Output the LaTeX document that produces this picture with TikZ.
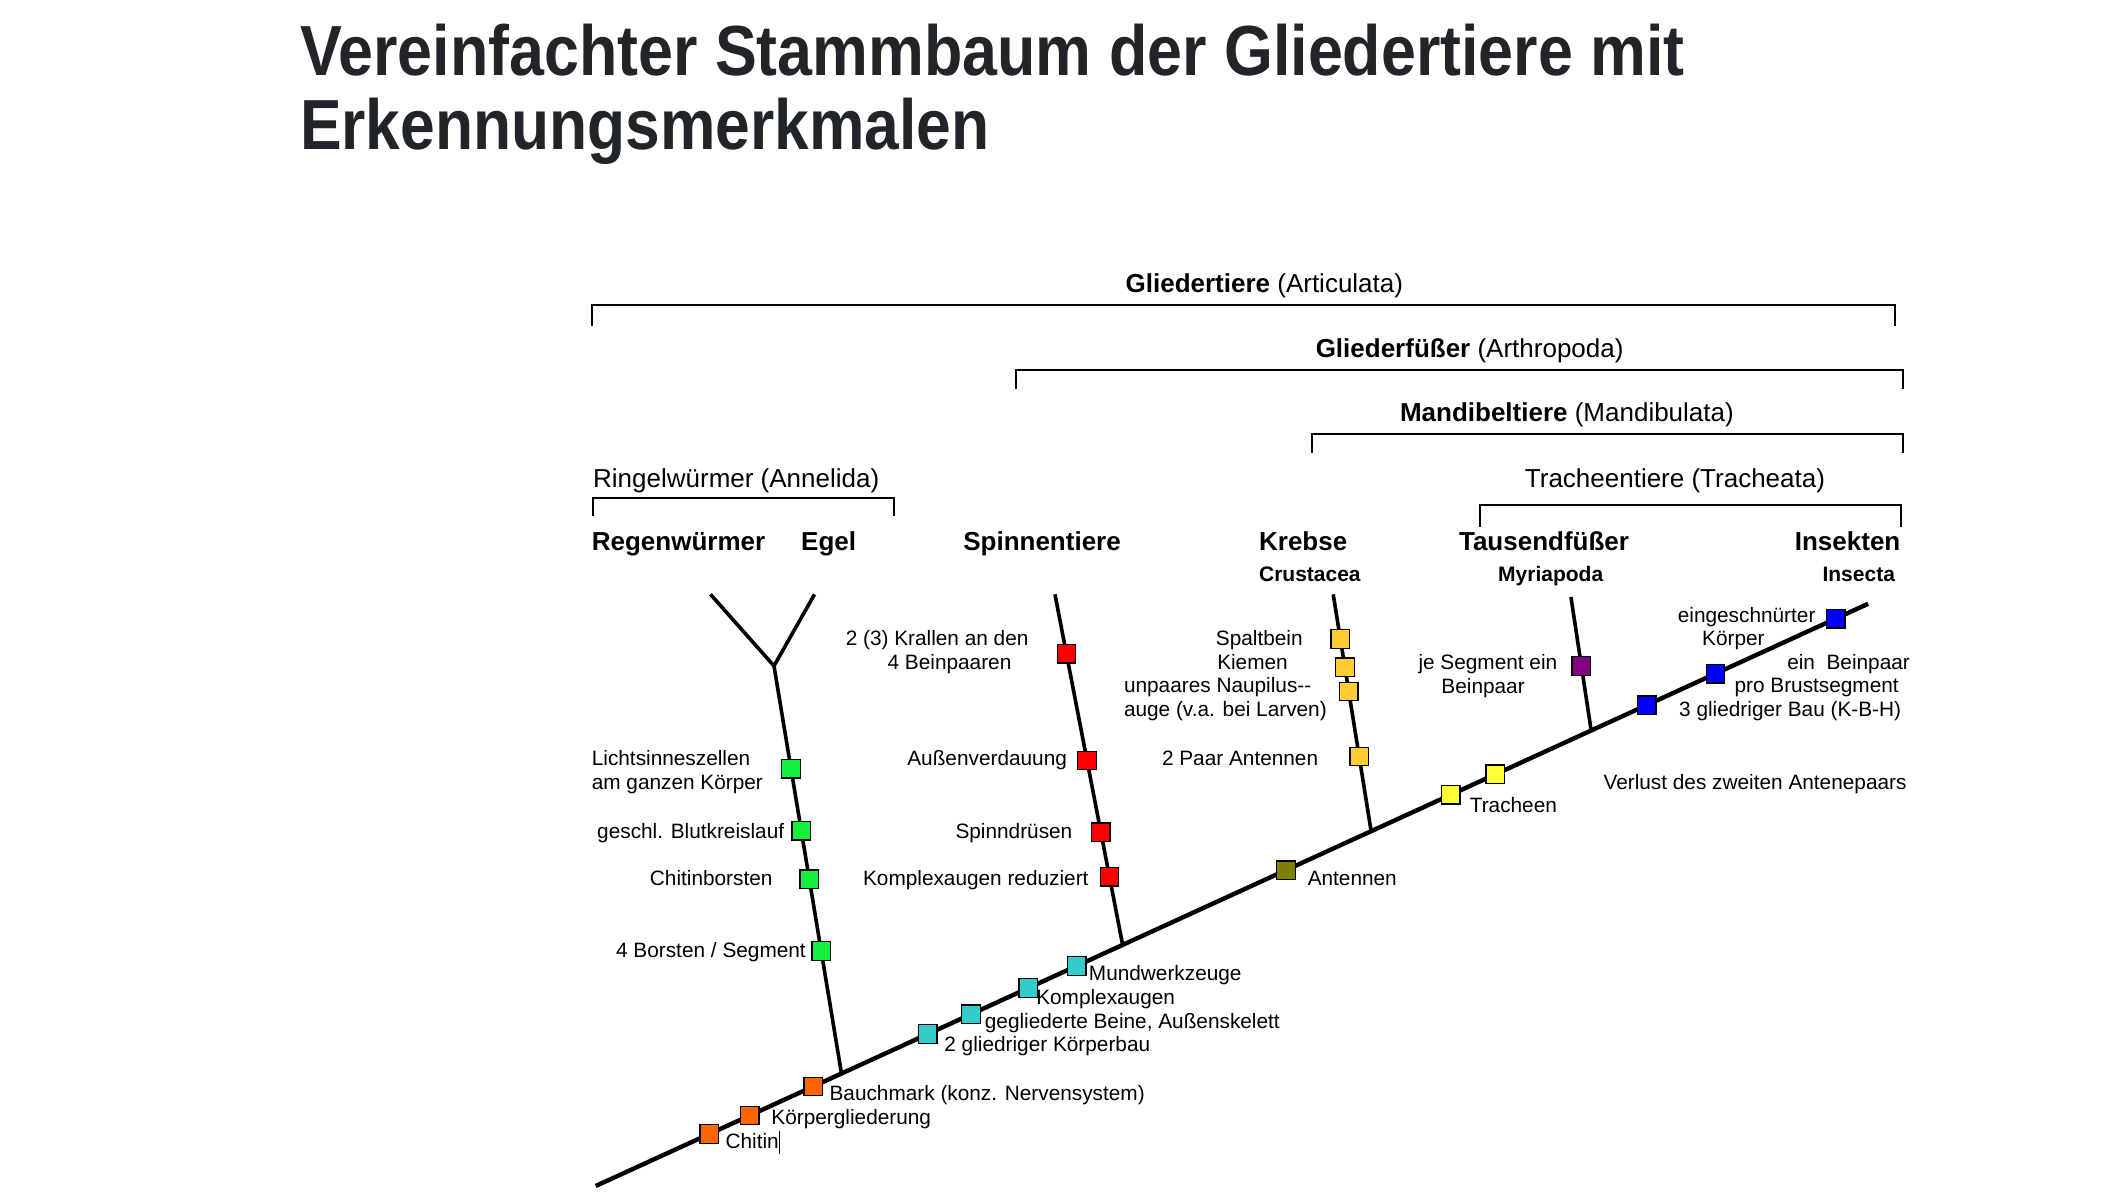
\documentclass[tikz,border=0pt]{standalone}
\usepackage{fontspec}
\setmainfont{Liberation Sans}
\definecolor{titlec}{RGB}{33,37,41}
\definecolor{corange}{RGB}{255,102,0}
\definecolor{ccyan}{RGB}{51,204,204}
\definecolor{cgreen}{RGB}{20,240,60}
\definecolor{cred}{RGB}{255,0,0}
\definecolor{ckrebs}{RGB}{255,204,51}
\definecolor{cpurple}{RGB}{128,0,128}
\definecolor{colive}{RGB}{128,128,0}
\definecolor{cyellow}{RGB}{255,255,51}
\definecolor{cblue}{RGB}{0,0,255}
\begin{document}
\begin{tikzpicture}[x=1.3508pt,y=-1.3508pt,
  lab/.style={inner sep=0pt, font=\fontsize{20.8}{25}\selectfont, text height=15pt, text depth=0pt},
  sublab/.style={inner sep=0pt, font=\fontsize{21}{25}\selectfont\bfseries, text height=15pt, text depth=0pt},
  hdr/.style={inner sep=0pt, font=\fontsize{26}{30}\selectfont, text height=18.6pt, text depth=0pt},
  hdrb/.style={hdr, font=\fontsize{26}{30}\selectfont\bfseries},
  sq/.style={draw=black, line width=1.3pt, minimum size=18.5pt, inner sep=0pt, fill=#1},
  trunk/.style={line width=4.4pt},
  branch/.style={line width=3.6pt},
  brk/.style={line width=2pt}]
\useasboundingbox (0,0) rectangle (1568,891);
\fill[white] (0,0) rectangle (1568,891);

% Title
\node[anchor=base west, inner sep=0pt, font=\fontsize{71}{75}\selectfont\bfseries, text=titlec] (title1) at (222,56)
  {\scalebox{0.884}[1]{Vereinfachter Stammbaum der Gliedertiere mit}};
\node[anchor=base west, inner sep=0pt, font=\fontsize{71}{75}\selectfont\bfseries, text=titlec] (title2) at (222,111)
  {\scalebox{0.878}[1]{Erkennungsmerkmalen}};

% Brackets
\coordinate (b1l) at (438,241); \coordinate (b1r) at (1403,241);
\coordinate (b2l) at (752,288); \coordinate (b2r) at (1409,288);
\coordinate (b3l) at (971,335); \coordinate (b3r) at (1409,335);
\coordinate (b4l) at (439,382); \coordinate (b4r) at (662,382);
\coordinate (b5l) at (1096,390); \coordinate (b5r) at (1407,390);
\draw[brk] (b1l) -- ++(0,-15) -| (b1r);
\draw[brk] (b2l) -- ++(0,-14) -| (b2r);
\draw[brk] (b3l) -- ++(0,-14) -| (b3r);
\draw[brk] (b4l) -- ++(0,-13) -| (b4r);
\draw[brk] (b5l) -- ++(0,-16) -| (b5r);

\node[hdr] (gl) at (936,210) {\textbf{Gliedertiere} (Articulata)};
\node[hdr] (gf) at (1088,258) {\textbf{Gliederfüßer} (Arthropoda)};
\node[hdr] (md) at (1160,305) {\textbf{Mandibeltiere} (Mandibulata)};
\node[hdr, anchor=west] (rw) at (439,354) {Ringelwürmer (Annelida)};
\node[hdr] (tr) at (1240,354) {Tracheentiere (Tracheata)};

% Group headers
\node[hdrb, anchor=west] (hregen) at (438,401) {Regenwürmer};
\node[hdrb, anchor=west] (hegel) at (593,401) {Egel};
\node[hdrb, anchor=west] (hspin) at (713,401) {Spinnentiere};
\node[hdrb, anchor=west] (hkreb) at (932,401) {Krebse};
\node[hdrb, anchor=west] (htaus) at (1080,401) {Tausendfüßer};
\node[hdrb, anchor=east] (hinse) at (1407,401) {Insekten};
\node[sublab, anchor=west] (scrus) at (932,425) {Crustacea};
\node[sublab] (smyri) at (1148,425) {Myriapoda};
\node[sublab, anchor=east] (sinse) at (1403,425) {Insecta};

% Tree
\coordinate (T0) at (441,878); \coordinate (T1) at (1383,447);
\coordinate (A0) at (623,795); \coordinate (Af) at (573,493);
\coordinate (Al) at (526,440); \coordinate (Ar) at (603,440);
\coordinate (S0) at (831,699); \coordinate (S1) at (781,440);
\coordinate (K0) at (1015,615); \coordinate (K1) at (987,440);
\coordinate (M0) at (1178,541); \coordinate (M1) at (1163,442);

\draw[trunk] (T0) -- (T1);
\draw[branch] (A0) -- (Af);
\draw[branch] (Al) -- (Af) -- (Ar);
\draw[branch] (S0) -- (S1);
\draw[branch] (K0) -- (K1);
\draw[branch] (M0) -- (M1);

% Squares on branches
\path (Af) -- (A0)
  node[sq=cgreen, pos=0.252] (g1) {}
  node[sq=cgreen, pos=0.404] (g2) {}
  node[sq=cgreen, pos=0.523] (g3) {}
  node[sq=cgreen, pos=0.699] (g4) {};
\path (S1) -- (S0)
  node[sq=cred, pos=0.170] (r1) {}
  node[sq=cred, pos=0.475] (r2) {}
  node[sq=cred, pos=0.680] (r3) {}
  node[sq=cred, pos=0.807] (r4) {};
\path (K1) -- (K0)
  node[sq=ckrebs, pos=0.189] (k1) {}
  node[sq=ckrebs, pos=0.309] (k2) {}
  node[sq=ckrebs, pos=0.411] (k3) {}
  node[sq=ckrebs, pos=0.686] (k4) {};
\path (M1) -- (M0)
  node[sq=cpurple, pos=0.515] (m1) {};
\path (T0) -- (T1)
  node[sq=corange, pos=0.0892] (o1) {}
  node[sq=corange, pos=0.121] (o2) {}
  node[sq=corange, pos=0.171] (o3) {}
  node[sq=ccyan, pos=0.261] (c1) {}
  node[sq=ccyan, pos=0.295] (c2) {}
  node[sq=ccyan, pos=0.340] (c3) {}
  node[sq=ccyan, pos=0.378] (c4) {}
  node[sq=colive, pos=0.5425] (ol1) {}
  node[sq=cyellow, pos=0.672] (y1) {}
  node[sq=cyellow, pos=0.707] (y2) {}
  node[sq=cblue, pos=0.826] (bl1) {}
  node[sq=cblue, pos=0.880] (bl2) {}
  node[sq=cblue, pos=0.9745] (bl3) {};

% Annelid labels
\node[lab, anchor=west] (la1) at (438,561) {Lichtsinneszellen};
\node[lab, anchor=west] (la2) at (438,579) {am ganzen Körper};
\node[lab, anchor=west] (la3) at (442,615) {geschl. Blutkreislauf};
\node[lab, anchor=west] (la4) at (481,650) {Chitinborsten};
\node[lab, anchor=west] (la5) at (456,703) {4 Borsten / Segment};

% Spider labels
\node[lab, anchor=west] (ls1) at (626,472) {2 (3) Krallen an den};
\node[lab, anchor=west] (ls2) at (657,490) {4 Beinpaaren};
\node[lab, anchor=east] (ls3) at (790,561) {Außenverdauung};
\node[lab, anchor=east] (ls4) at (794,615) {Spinndrüsen};
\node[lab, anchor=east] (ls5) at (806,650) {Komplexaugen reduziert};

% Krebse labels
\node[lab, anchor=west] (lk1) at (900,472) {Spaltbein};
\node[lab, anchor=west] (lk2) at (901,490) {Kiemen};
\node[lab, anchor=west] (lk3) at (832,507) {unpaares Naupilus-{}-};
\node[lab, anchor=west] (lk4) at (832,525) {auge (v.a. bei Larven)};
\node[lab, anchor=east] (lk5) at (976,561) {2 Paar Antennen};

% Myriapoda labels
\node[lab, anchor=west] (lm1) at (1050,490) {je Segment ein};
\node[lab, anchor=west] (lm2) at (1067,508) {Beinpaar};

% Insect labels
\node[lab, anchor=west] (li1) at (1242,455) {eingeschnürter};
\node[lab, anchor=west] (li2) at (1260,472) {Körper};
\node[lab, anchor=west] (li3) at (1323,490) {ein~ Beinpaar};
\node[lab, anchor=west] (li4) at (1284,507) {pro Brustsegment};
\node[lab, anchor=west] (li5) at (1243,525) {3 gliedriger Bau (K-B-H)};
\node[lab, anchor=west] (li6) at (1187,579) {Verlust des zweiten Antenepaars};

% Trunk labels
\node[lab, anchor=west] (lt1) at (537,845) {Chitin};
\draw[line width=0.9pt] ([xshift=1pt,yshift=3pt]lt1.north east) -- ([xshift=1pt,yshift=-5pt]lt1.south east);
\node[lab, anchor=west] (lt2) at (571,827) {Körpergliederung};
\node[lab, anchor=west] (lt3) at (614,809) {Bauchmark (konz. Nervensystem)};
\node[lab, anchor=west] (lt4) at (699,773) {2 gliedriger Körperbau};
\node[lab, anchor=west] (lt5) at (729,756) {gegliederte Beine, Außenskelett};
\node[lab, anchor=west] (lt6) at (767,738) {Komplexaugen};
\node[lab, anchor=west] (lt7) at (806,720) {Mundwerkzeuge};
\node[lab, anchor=west] (lt8) at (968,650) {Antennen};
\node[lab, anchor=west] (lt9) at (1088,596) {Tracheen};
\end{tikzpicture}
\end{document}
